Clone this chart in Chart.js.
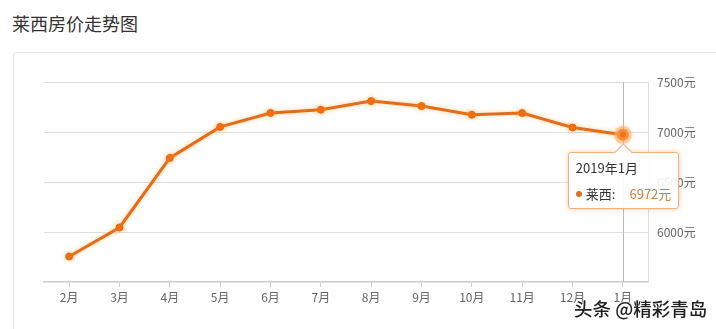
<!DOCTYPE html>
<html>
<head>
<meta charset="utf-8">
<script src="https://cdn.jsdelivr.net/npm/chart.js@4"></script>
<style>
  html, body { margin: 0; padding: 0; background: #fff; width: 716px; height: 329px; overflow: hidden; }
  body { position: relative; font-family: "Noto Sans CJK SC", "Noto Sans", sans-serif; }
  .title { position: absolute; left: 12px; top: 10px; font-size: 18px; color: #333; line-height: 26px; }
  .card { position: absolute; left: 13px; top: 52px; width: 800px; height: 400px; border: 1px solid #e4e4e4; border-radius: 4px; }
  #priceChart { position: absolute; left: 0; top: 0; width: 716px; height: 329px; }
  #tip { position: absolute; display: none; background: rgba(255,255,255,0.92); border: 1px solid #f0b07a;
         border-radius: 3px; box-shadow: 0 0 5px rgba(240,140,60,0.45); font-size: 13px; color: #333;
         box-sizing: border-box; padding: 6px 7px; white-space: nowrap; }
  #tip .t { line-height: 17px; }
  #tip .r { line-height: 17px; margin-top: 9px; }
  #tip .dot { display: inline-block; width: 6px; height: 6px; border-radius: 3px; background: #e0701e; margin-right: 4px; vertical-align: 2px; }
  #tip .v { color: #db7a32; margin-left: 14px; }
  #tip:before { content: ""; position: absolute; left: 50%; top: -7px; margin-left: -7px; width: 12px; height: 12px;
                background: #fff; border-left: 1px solid #f0b07a; border-top: 1px solid #f0b07a; transform: rotate(45deg); }
  .wm { position: absolute; left: 574px; top: 296px; font-size: 18.5px; line-height: 24px; color: #222; font-weight: 500;
        white-space: nowrap; text-shadow: 0 0 2px #fff, 0 0 2px #fff, 1px 1px 1px #fff; }
</style>
</head>
<body>
<div class="title">莱西房价走势图</div>
<div class="card"></div>
<canvas id="priceChart" width="716" height="329"></canvas>
<div id="tip"></div>
<div class="wm">头条 @精彩青岛</div>
<script>
const months = ["2月", "3月", "4月", "5月", "6月", "7月", "8月", "9月", "10月", "11月", "12月", "1月"];
const fullMonths = ["2018年2月", "2018年3月", "2018年4月", "2018年5月", "2018年6月", "2018年7月",
                    "2018年8月", "2018年9月", "2018年10月", "2018年11月", "2018年12月", "2019年1月"];
const prices = [5755, 6045, 6741, 7051, 7190, 7223, 7309, 7259, 7173, 7190, 7045, 6972];
const seriesName = "莱西";
const yTicks = [6000, 6500, 7000, 7500];

const activeIndex = prices.length - 1;

// vertical hover line at the active point
const crosshair = {
  id: "crosshair",
  beforeDatasetsDraw(chart) {
    const active = chart.getActiveElements();
    if (!active.length) return;
    const x = active[0].element.x;
    const { top, bottom } = chart.chartArea;
    const ctx = chart.ctx;
    ctx.save();
    ctx.strokeStyle = "#b8b8b8";
    ctx.lineWidth = 1;
    ctx.beginPath();
    ctx.moveTo(Math.round(x) + 0.5, top);
    ctx.lineTo(Math.round(x) + 0.5, bottom);
    ctx.stroke();
    ctx.restore();
  }
};

// soft glow under the line
const glow = {
  id: "glow",
  beforeDatasetDraw(chart) {
    chart.ctx.save();
    chart.ctx.shadowColor = "rgba(255,170,60,0.55)";
    chart.ctx.shadowBlur = 4;
  },
  afterDatasetDraw(chart) {
    chart.ctx.restore();
  }
};

const tipEl = document.getElementById("tip");
function externalTip(context) {
  const tt = context.tooltip;
  if (tt.opacity === 0) { tipEl.style.display = "none"; return; }
  const i = tt.dataPoints[0].dataIndex;
  tipEl.innerHTML = '<div class="t">' + fullMonths[i] + '</div>' +
    '<div class="r"><span class="dot"></span>' + seriesName + ':<span class="v">' + prices[i] + '元</span></div>';
  tipEl.style.display = "block";
  const w = tipEl.offsetWidth;
  tipEl.style.left = (tt.caretX - w / 2 + 1) + "px";
  tipEl.style.top = (tt.caretY + 17) + "px";
}

const chart = new Chart(document.getElementById("priceChart"), {
  type: "line",
  data: {
    labels: months,
    datasets: [{
      label: seriesName,
      data: prices,
      borderColor: "#e26d1c",
      borderWidth: 3,
      backgroundColor: "#ec6810",
      pointBackgroundColor: "#ec6810",
      pointBorderColor: "#ec6810",
      pointRadius: 3.5,
      pointBorderWidth: 1,
      pointHoverRadius: 6,
      pointHoverBorderWidth: 6,
      pointHoverBorderColor: "rgba(250,170,110,0.5)",
      pointHoverBackgroundColor: "#f06a0c",
      tension: 0,
      fill: false
    }]
  },
  options: {
    responsive: false,
    animation: false,
    events: [],
    layout: { padding: { top: 82, left: 44, right: 0, bottom: 0 } },
    plugins: {
      legend: { display: false },
      tooltip: { enabled: false, external: externalTip, mode: "index", intersect: false }
    },
    scales: {
      x: {
        offset: true,
        grid: { display: true, drawOnChartArea: false, drawTicks: true, tickLength: 5, color: "#cfcfcf", offset: false },
        border: { display: true, color: "#cccccc", width: 1.5 },
        ticks: { color: "#666", font: { family: "Noto Sans CJK SC", size: 12 }, padding: 3, maxRotation: 0 },
        afterFit(scale) { scale.height = 47; }
      },
      y: {
        position: "right",
        min: 5500,
        max: 7500,
        afterBuildTicks(scale) { scale.ticks = yTicks.map(v => ({ value: v })); },
        grid: { color: "#dedede", drawTicks: false },
        border: { display: true, color: "#dedede" },
        ticks: {
          color: "#666",
          font: { family: "Noto Sans CJK SC", size: 12 },
          padding: 9,
          callback: v => v + "元"
        },
        afterFit(scale) { scale.width = 68; }
      }
    }
  },
  plugins: [crosshair, glow]
});

chart.setActiveElements([{ datasetIndex: 0, index: activeIndex }]);
chart.tooltip.setActiveElements([{ datasetIndex: 0, index: activeIndex }], { x: 0, y: 0 });
chart.update();
</script>
</body>
</html>
